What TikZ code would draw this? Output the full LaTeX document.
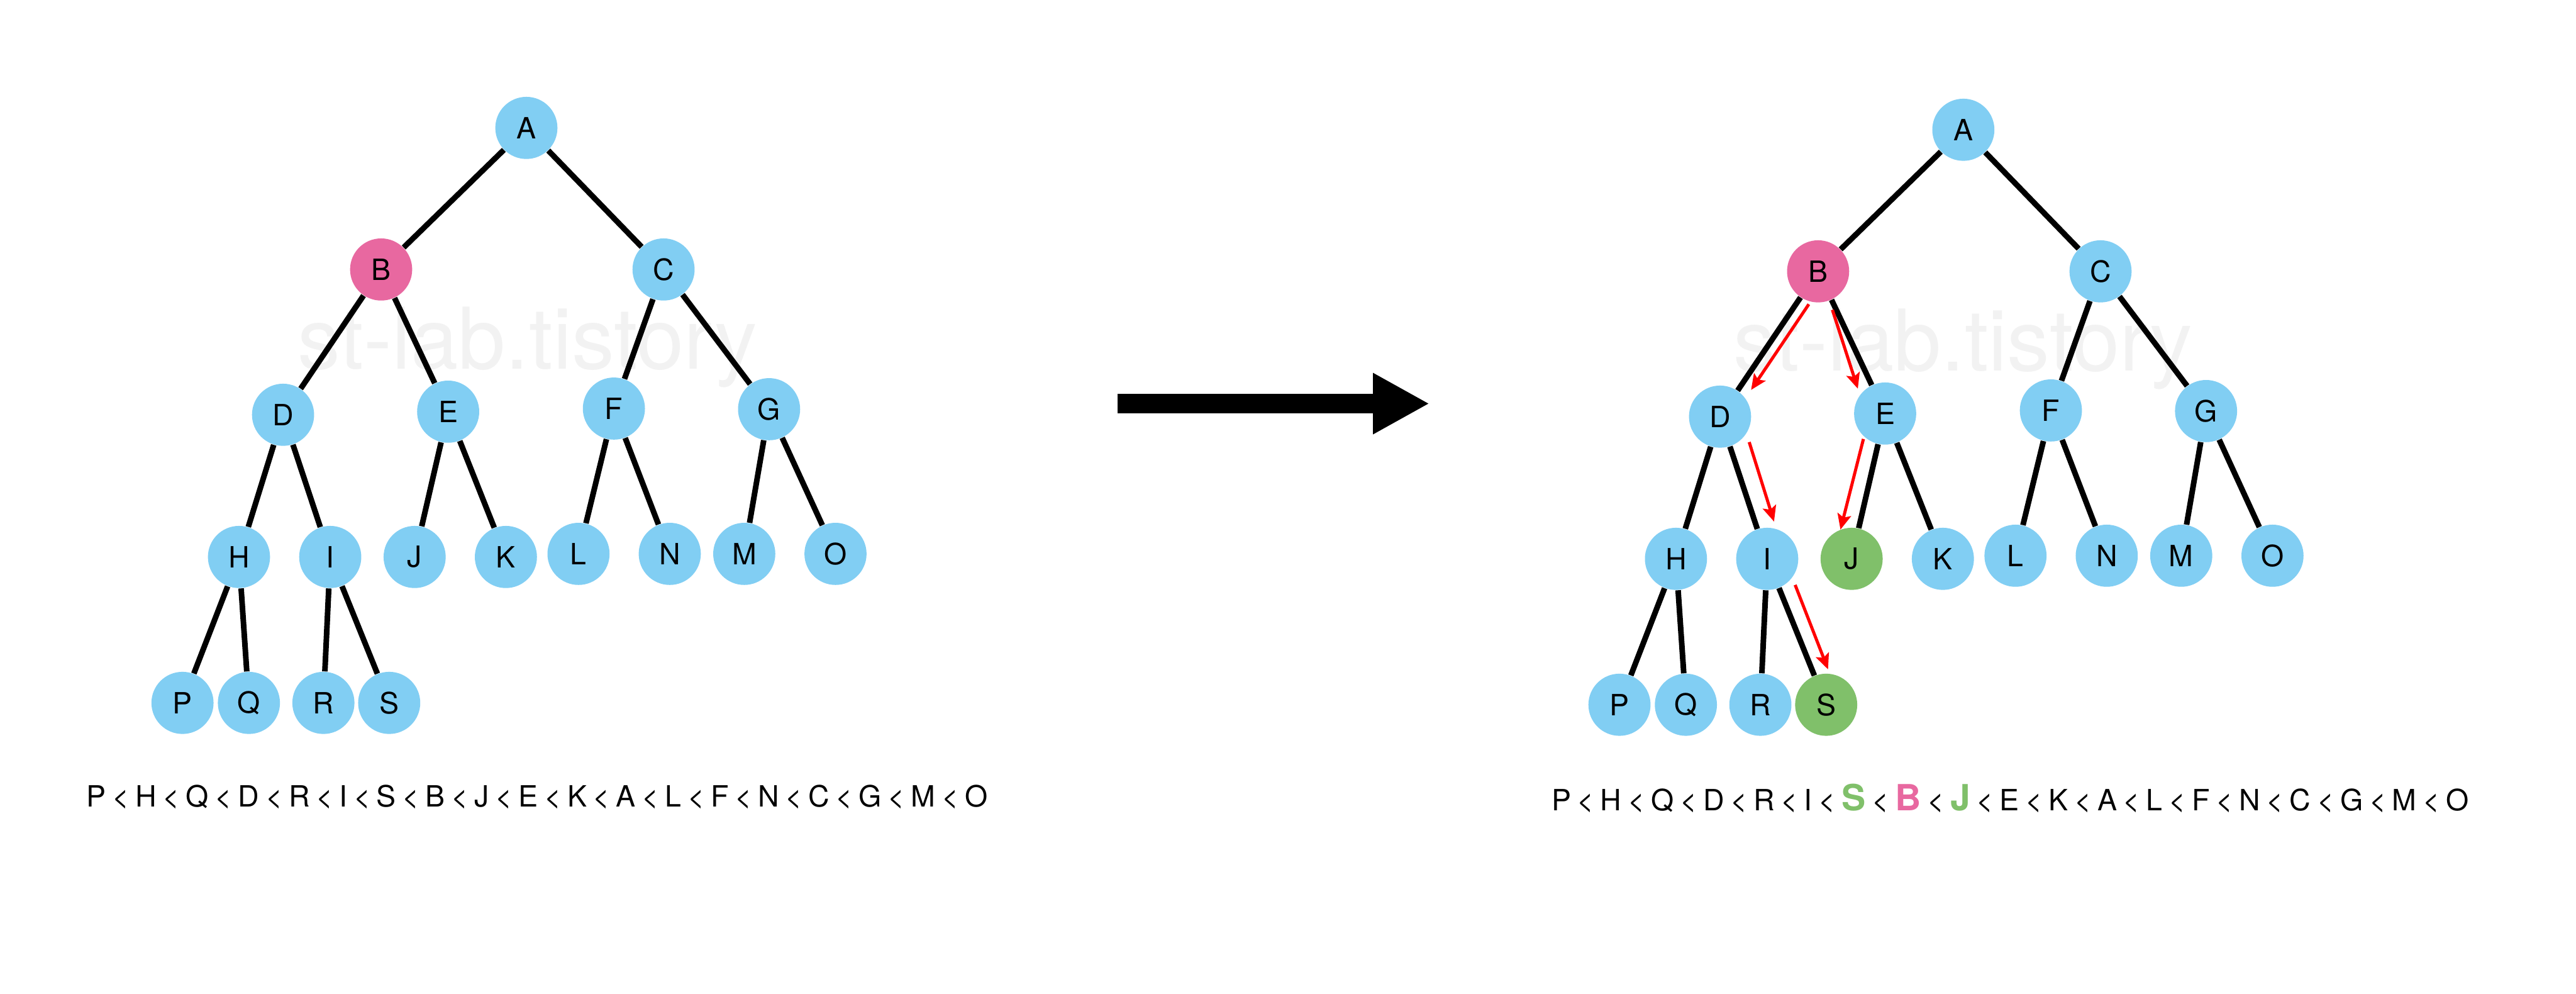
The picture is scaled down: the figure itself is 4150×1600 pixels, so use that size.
\documentclass[tikz,border=0pt]{standalone}
\usepackage{fontspec}
\setmainfont{TeX Gyre Heros}
\usetikzlibrary{arrows.meta,calc}
\definecolor{nodeblue}{RGB}{129,206,243}
\definecolor{nodepink}{RGB}{232,104,160}
\definecolor{nodegreen}{RGB}{128,192,106}
\definecolor{wmgray}{RGB}{242,242,242}
\tikzset{
  tnode/.style={circle,minimum size=1cm,inner sep=0pt,draw=none,text=black,font=\fontsize{13.4}{16}\selectfont},
  edge/.style={line width=0.09cm,black},
  redarrow/.style={line width=0.05cm,red,-{Stealth[length=0.25cm,width=0.22cm,inset=0.05cm]}},
  bigarrow/.style={line width=0.31cm,black,-{Triangle[length=0.91cm,width=0.92cm]}},
  watermark/.style={text=wmgray,font=\fontsize{39}{46}\selectfont,anchor=base west,inner sep=0pt},
  seqtext/.style={anchor=base west,inner sep=0pt,font=\fontsize{13.4}{16}\selectfont}
}
\newcommand\drawtree[4]{%
  \foreach \n/\x/\y/\c in {A/848/206/nodeblue, B/614/434/#2, C/1069/434/nodeblue,
     D/456/668/nodeblue, E/722/663/nodeblue, F/989/658/nodeblue, G/1239/659/nodeblue,
     H/385/897/nodeblue, I/532/897/nodeblue, J/668/897/#3, K/815/897/nodeblue,
     L/932/892/nodeblue, N/1079/892/nodeblue, M/1199/892/nodeblue, O/1346/892/nodeblue,
     P/294/1132/nodeblue, Q/401/1132/nodeblue, R/521/1132/nodeblue, S/627/1132/#4}
    {\node[tnode,fill=\c] (#1\n) at (\x,\y) {\n};}
  \foreach \a/\b in {A/B,A/C,B/D,B/E,C/F,C/G,D/H,D/I,E/J,E/K,F/L,F/N,G/M,G/O,H/P,H/Q,I/R,I/S}
    {\draw[edge] (#1\a) -- (#1\b);}
}
\begin{document}
\begin{tikzpicture}[x=0.01cm,y=-0.01cm]
\fill[white] (0,0) rectangle (4150,1600);
\useasboundingbox (0,0) rectangle (4150,1600);
% watermarks
\node[watermark] (wmL) at (479,594) {st-lab.tistory};
\node[watermark] (wmR) at (2792,597) {st-lab.tistory};
% left tree
\begin{scope}
  \drawtree{l}{nodepink}{nodeblue}{nodeblue}
\end{scope}
% right tree
\begin{scope}[shift={(2315,3)}]
  \drawtree{r}{nodepink}{nodegreen}{nodegreen}
\end{scope}
% red traversal arrows
\coordinate (bd1) at (2914,490); \coordinate (bd2) at (2821,628);
\coordinate (be1) at (2952,499); \coordinate (be2) at (2993,626);
\coordinate (di1) at (2818,712); \coordinate (di2) at (2858,840);
\coordinate (ej1) at (3002,707); \coordinate (ej2) at (2965,853);
\coordinate (is1) at (2892,942); \coordinate (is2) at (2945,1078);
\draw[redarrow] (bd1) -- (bd2);
\draw[redarrow] (be1) -- (be2);
\draw[redarrow] (di1) -- (di2);
\draw[redarrow] (ej1) -- (ej2);
\draw[redarrow] (is1) -- (is2);
% big arrow
\coordinate (arrS) at (1800,650);
\coordinate (arrE) at (2303,650);
\draw[bigarrow] (arrS) -- (arrE);
% sequences
\node[seqtext] (seqL) at (139,1299) {\spaceskip=0.21em\relax P < H < Q < D < R < I < S < B < J < E < K < A < L < F < N < C < G < M < O};
\node[seqtext] (seqR) at (2499,1305) {\spaceskip=0.21em\relax P < H < Q < D < R < I < {\fontsize{16.5}{20}\selectfont\bfseries\color{nodegreen}S} < {\fontsize{16.5}{20}\selectfont\bfseries\color{nodepink}B} < {\fontsize{16.5}{20}\selectfont\bfseries\color{nodegreen}J} < E < K < A < L < F < N < C < G < M < O};
\end{tikzpicture}
\end{document}
